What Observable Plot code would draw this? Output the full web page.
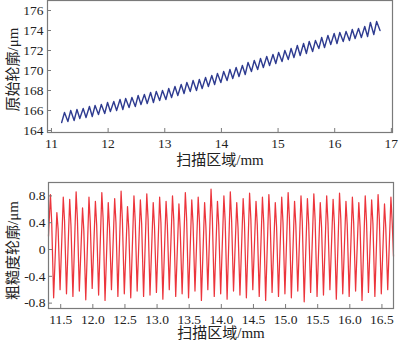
<!DOCTYPE html>
<html>
<head>
<meta charset="utf-8">
<script src="https://cdn.jsdelivr.net/npm/d3@7"></script>
<script src="https://cdn.jsdelivr.net/npm/@observablehq/plot@0.6"></script>
<style>
  html, body { margin: 0; padding: 0; background: #fff; }
  #wrap { width: 400px; }
  svg { display: block; }
</style>
</head>
<body>
<div id="wrap"></div>
<script>
// ---------- Data: top (raw profile) ----------
const topX = [11.18,11.23,11.29,11.34,11.40,11.45,11.50,11.56,11.61,11.67,11.72,11.77,11.83,11.88,11.94,11.99,
  12.04,12.10,12.15,12.21,12.26,12.31,12.37,12.42,12.48,12.53,12.58,12.64,12.69,12.75,12.80,12.85,12.91,12.96,
  13.02,13.07,13.12,13.18,13.23,13.29,13.34,13.39,13.45,13.50,13.56,13.61,13.66,13.72,13.77,13.83,13.88,13.93,13.99,
  14.04,14.10,14.15,14.20,14.26,14.31,14.37,14.42,14.47,14.53,14.58,14.64,14.69,14.74,14.80,14.85,14.91,14.96,
  15.01,15.07,15.12,15.18,15.23,15.28,15.34,15.39,15.45,15.50,15.55,15.61,15.66,15.72,15.77,15.82,15.88,15.93,15.99,
  16.04,16.09,16.15,16.20,16.26,16.31,16.36,16.42,16.47,16.53,16.58,16.63,16.69,16.74,16.80];
const topY = [164.8,165.8,164.9,166.0,165.0,166.1,165.2,166.2,165.3,166.4,165.4,166.5,165.6,166.6,165.7,166.8,
  165.9,166.9,166.0,167.1,166.1,167.2,166.3,167.3,166.4,167.5,166.6,167.6,166.7,167.8,166.8,167.9,167.0,168.0,
  167.1,168.2,167.3,168.4,167.5,168.6,167.7,168.8,167.9,169.0,168.0,169.1,168.2,169.3,168.4,169.5,168.6,169.7,168.8,
  169.9,169.0,170.1,169.2,170.3,169.4,170.5,169.6,170.8,169.9,171.0,170.1,171.2,170.3,171.4,170.5,171.6,170.7,
  171.8,170.9,172.0,171.1,172.2,171.3,172.5,171.5,172.7,171.7,172.9,171.9,173.0,172.2,173.3,172.3,173.5,172.6,173.7,
  172.7,173.8,172.9,173.9,173.0,174.1,173.2,174.2,173.3,174.4,173.4,174.8,173.6,174.9,174.0];
const topXTicks = [11, 12, 13, 14, 15, 16, 17];
const topYTicks = [164, 166, 168, 170, 172, 174, 176];

// ---------- Data: bottom (roughness profile): peak, shoulder, trough per cycle ----------
const botX = [11.31,
  11.34,11.36,11.39, 11.44,11.46,11.49, 11.54,11.56,11.59, 11.64,11.66,11.69, 11.74,11.76,11.79,
  11.84,11.86,11.89, 11.94,11.96,11.99, 12.04,12.06,12.09, 12.14,12.16,12.19, 12.24,12.26,12.29,
  12.34,12.36,12.39, 12.44,12.46,12.49, 12.54,12.56,12.59, 12.64,12.66,12.69, 12.74,12.76,12.79,
  12.84,12.86,12.89, 12.94,12.96,12.99, 13.04,13.06,13.09, 13.14,13.16,13.19, 13.24,13.26,13.29,
  13.34,13.36,13.39, 13.44,13.46,13.49, 13.54,13.56,13.59, 13.64,13.66,13.69, 13.74,13.76,13.79,
  13.84,13.86,13.89, 13.94,13.96,13.99, 14.04,14.06,14.09, 14.14,14.16,14.19, 14.24,14.26,14.29,
  14.34,14.36,14.39, 14.44,14.46,14.49, 14.54,14.56,14.59, 14.64,14.66,14.69, 14.74,14.76,14.79,
  14.84,14.86,14.89, 14.94,14.96,14.99, 15.04,15.06,15.09, 15.14,15.16,15.19, 15.24,15.26,15.29,
  15.34,15.36,15.39, 15.44,15.46,15.49, 15.54,15.56,15.59, 15.64,15.66,15.69, 15.74,15.76,15.79,
  15.84,15.86,15.89, 15.94,15.96,15.99, 16.04,16.06,16.09, 16.14,16.16,16.19, 16.24,16.26,16.29,
  16.34,16.36,16.39, 16.44,16.46,16.49, 16.54,16.56,16.59, 16.64,16.66,16.68];
const botY = [0.2,
  0.82,0.40,-0.72, 0.55,0.30,-0.60, 0.78,0.42,-0.66, 0.75,0.35,-0.70, 0.86,0.45,-0.62,
  0.62,0.28,-0.75, 0.78,0.40,-0.58, 0.72,0.36,-0.68, 0.85,0.46,-0.76, 0.70,0.32,-0.60,
  0.76,0.40,-0.70, 0.87,0.44,-0.66, 0.64,0.30,-0.72, 0.80,0.42,-0.62, 0.74,0.38,-0.70,
  0.83,0.45,-0.68, 0.70,0.34,-0.64, 0.78,0.40,-0.74, 0.72,0.36,-0.60, 0.80,0.44,-0.70,
  0.68,0.30,-0.66, 0.85,0.46,-0.72, 0.74,0.38,-0.62, 0.78,0.40,-0.76, 0.70,0.34,-0.60,
  0.90,0.48,-0.70, 0.72,0.36,-0.66, 0.80,0.42,-0.74, 0.86,0.44,-0.62, 0.70,0.32,-0.68,
  0.76,0.40,-0.72, 0.84,0.45,-0.60, 0.72,0.36,-0.70, 0.78,0.40,-0.76, 0.82,0.44,-0.64,
  0.70,0.34,-0.70, 0.78,0.40,-0.66, 0.85,0.46,-0.72, 0.72,0.36,-0.62, 0.80,0.42,-0.78,
  0.76,0.38,-0.64, 0.83,0.44,-0.70, 0.70,0.34,-0.68, 0.80,0.40,-0.60, 0.75,0.38,-0.74,
  0.84,0.45,-0.66, 0.72,0.36,-0.70, 0.78,0.40,-0.62, 0.70,0.34,-0.76, 0.80,0.42,-0.64,
  0.74,0.38,-0.70, 0.82,0.44,-0.66, 0.68,0.32,-0.60, 0.78,0.40,-0.10];
const botXTicks = [11.5, 12.0, 12.5, 13.0, 13.5, 14.0, 14.5, 15.0, 15.5, 16.0, 16.5];
const botYTicks = [-0.8, -0.4, 0, 0.4, 0.8];

const labels = {topX: "扫描区域/mm", topY: "原始轮廓/μm", botX: "扫描区域/mm", botY: "粗糙度轮廓/μm"};

const topData = topX.map((x, i) => ({x, y: topY[i]}));
const botData = botX.map((x, i) => ({x, y: botY[i]}));

const FONT = "'Liberation Serif', 'Noto Sans CJK SC', serif";
const frameColor = "#7a7a7a";

const chartTop = Plot.plot({
  width: 400, height: 172,
  marginTop: 0, marginBottom: 40, marginLeft: 47, marginRight: 8,
  style: {fontFamily: FONT, fontSize: "13.5px", color: "#222", background: "#fff"},
  x: {domain: [10.93, 17.02]},
  y: {domain: [163.8, 177]},
  marks: [
    Plot.line(topData, {x: "x", y: "y", stroke: "#2e3b90", strokeWidth: 1.4}),
    Plot.frame({stroke: frameColor, strokeWidth: 1.2}),
    Plot.axisX({ticks: topXTicks, tickFormat: d3.format("d"), tickSize: -4, tickPadding: 10, stroke: frameColor, label: null}),
    Plot.axisY({ticks: topYTicks, tickFormat: d3.format("d"), tickSize: -4, tickPadding: 8, stroke: frameColor, label: null}),
    Plot.text([labels.topX], {frameAnchor: "bottom", dy: 28, textAnchor: "middle", lineAnchor: "middle", fontSize: 15, fill: "#222"}),
    Plot.text([labels.topY], {frameAnchor: "left", dx: -34, dy: 3, rotate: -90, textAnchor: "middle", lineAnchor: "middle", fontSize: 15, fill: "#222"})
  ]
});

const chartBot = Plot.plot({
  width: 400, height: 174,
  marginTop: 10, marginBottom: 38, marginLeft: 48, marginRight: 7,
  style: {fontFamily: FONT, fontSize: "13.5px", color: "#222", background: "#fff"},
  x: {domain: [11.31, 16.68]},
  y: {domain: [-0.88, 1.0]},
  marks: [
    Plot.line(botData, {x: "x", y: "y", stroke: "#ea1f27", strokeWidth: 1.25, strokeOpacity: 0.9}),
    Plot.frame({stroke: frameColor, strokeWidth: 1.2}),
    Plot.axisX({ticks: botXTicks, tickFormat: d3.format(".1f"), tickSize: -4, tickPadding: 9.5, stroke: frameColor, label: null}),
    Plot.axisY({ticks: botYTicks, tickFormat: d => d === 0 ? "0" : d3.format(".1f")(d).replace("−", "-"),
      tickSize: -4, tickPadding: 7, stroke: frameColor, label: null}),
    Plot.text([labels.botX], {frameAnchor: "bottom", dy: 25, textAnchor: "middle", lineAnchor: "middle", fontSize: 15, fill: "#222"}),
    Plot.text([labels.botY], {frameAnchor: "left", dx: -35, dy: 5, rotate: -90, textAnchor: "middle", lineAnchor: "middle", fontSize: 15, fill: "#222"})
  ]
});

document.getElementById("wrap").append(chartTop, chartBot);
</script>
</body>
</html>
